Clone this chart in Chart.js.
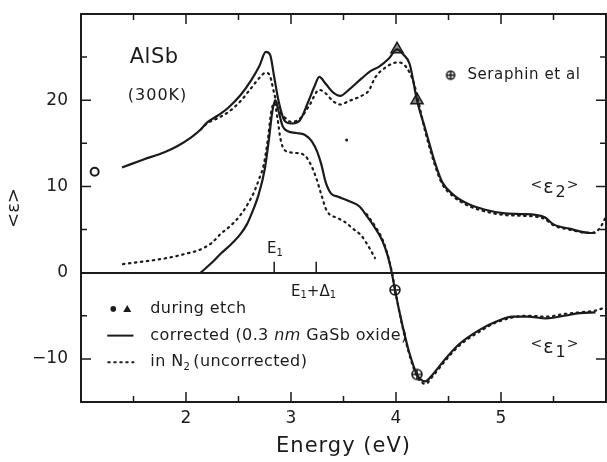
<!DOCTYPE html>
<html>
<head>
<meta charset="utf-8">
<script src="https://cdn.jsdelivr.net/npm/chart.js@4.4.1/dist/chart.umd.min.js"></script>
<style>
  html, body { margin: 0; padding: 0; background: #fff; }
  #wrap { width: 607px; height: 462px; }
</style>
</head>
<body>
<div id="wrap"><canvas id="chart" width="607" height="462"></canvas></div>
<script>
// <eps2>, corrected (0.3 nm GaSb oxide)
const eps2CorrE = [1.39, 1.59, 1.80, 1.92, 2.05, 2.14, 2.20, 2.30, 2.40, 2.52, 2.62, 2.70, 2.76, 2.80, 2.84, 2.88, 2.94, 3.00, 3.08, 3.17, 3.22, 3.27, 3.33, 3.40, 3.47, 3.55, 3.67, 3.76, 3.84, 3.93, 4.01, 4.07, 4.13, 4.20, 4.28, 4.37, 4.44, 4.55, 4.70, 4.85, 5.02, 5.20, 5.33, 5.42, 5.50, 5.65, 5.85, 5.90];
const eps2CorrV = [12.2, 13.1, 14.0, 14.7, 15.7, 16.6, 17.4, 18.2, 19.1, 20.6, 22.3, 24.0, 25.6, 25.3, 22.7, 20.0, 17.6, 17.3, 17.6, 20.0, 21.5, 22.7, 21.9, 20.9, 20.5, 21.2, 22.5, 23.4, 23.9, 24.8, 25.9, 25.3, 24.2, 20.0, 16.6, 12.8, 10.5, 9.0, 7.9, 7.3, 6.9, 6.8, 6.7, 6.4, 5.6, 5.1, 4.6, 4.6];

// <eps2>, in N2 (uncorrected)
const eps2RawE = [2.14, 2.20, 2.30, 2.40, 2.52, 2.62, 2.70, 2.76, 2.80, 2.84, 2.88, 2.94, 3.00, 3.08, 3.17, 3.27, 3.33, 3.40, 3.47, 3.55, 3.67, 3.74, 3.80, 3.90, 4.02, 4.10, 4.17, 4.22, 4.28, 4.37, 4.44, 4.55, 4.70, 4.85, 5.02, 5.20, 5.33, 5.42, 5.50, 5.65, 5.85, 5.93, 5.98, 6.00];
const eps2RawV = [16.6, 17.3, 17.9, 18.6, 19.9, 21.4, 22.6, 23.2, 22.8, 20.8, 19.0, 18.0, 17.5, 17.8, 19.3, 21.2, 20.8, 19.9, 19.5, 19.9, 20.5, 21.1, 22.6, 23.8, 24.4, 23.8, 22.0, 19.5, 16.3, 12.5, 10.3, 8.8, 7.7, 7.1, 6.7, 6.6, 6.5, 6.2, 5.5, 5.0, 4.6, 5.0, 6.0, 6.6];

// <eps1>, corrected
const eps1CorrE = [2.14, 2.25, 2.33, 2.43, 2.52, 2.58, 2.62, 2.69, 2.75, 2.79, 2.82, 2.85, 2.88, 2.92, 2.97, 3.05, 3.13, 3.20, 3.25, 3.29, 3.33, 3.38, 3.45, 3.55, 3.65, 3.72, 3.80, 3.87, 3.92, 3.96, 3.99, 4.05, 4.12, 4.20, 4.28, 4.35, 4.47, 4.60, 4.80, 4.95, 5.11, 5.25, 5.43, 5.60, 5.75, 5.90];
const eps1CorrV = [0.0, 1.2, 2.2, 3.3, 4.5, 5.6, 6.7, 9.0, 12.0, 15.5, 18.5, 20.0, 18.8, 17.0, 16.4, 16.2, 16.0, 15.2, 14.0, 12.5, 10.5, 9.2, 8.8, 8.3, 7.7, 6.6, 5.2, 3.7, 2.0, 0.0, -2.0, -5.5, -9.0, -11.8, -12.6, -11.8, -10.0, -8.3, -6.6, -5.7, -5.1, -5.1, -5.3, -5.0, -4.7, -4.6];

// <eps1>, in N2 (uncorrected); null marks the break between the two strands
const eps1RawE = [1.40, 1.60, 1.82, 2.00, 2.14, 2.25, 2.33, 2.43, 2.52, 2.60, 2.65, 2.70, 2.74, 2.78, 2.81, 2.84, 2.87, 2.90, 2.94, 3.03, 3.13, 3.19, 3.24, 3.29, 3.34, 3.45, 3.51, 3.60, 3.67, 3.74, 3.80, 3.81, 3.72, 3.80, 3.87, 3.92, 3.96, 3.99, 4.05, 4.12, 4.20, 4.28, 4.35, 4.47, 4.60, 4.80, 4.95, 5.11, 5.25, 5.43, 5.60, 5.75, 5.90, 6.00];
const eps1RawV = [1.0, 1.3, 1.7, 2.2, 2.7, 3.5, 4.5, 5.5, 6.7, 8.2, 9.4, 11.0, 12.5, 15.5, 18.5, 19.7, 18.0, 15.5, 14.2, 13.9, 13.6, 12.5, 11.0, 9.0, 7.2, 6.3, 5.9, 5.0, 4.3, 3.0, 1.7, null, 6.8, 5.4, 3.9, 2.1, 0.1, -1.9, -5.6, -9.2, -12.0, -12.9, -12.0, -10.2, -8.5, -6.8, -5.8, -5.2, -5.0, -5.1, -4.8, -4.6, -4.4, -4.0];

// Seraphin et al
const serE = [3.99, 4.20];
const serV = [-2.0, -11.8];
const lowE = [1.13];
const lowV = [11.7];

// during etch
const etchTriE = [4.01, 4.20];
const etchTriV = [25.9, 20.0];
const etchDotE = [3.53];
const etchDotV = [15.4];

const xTickLabels = [2, 3, 4, 5];
const yTickLabels = [20, 10, 0, -10];

const INK = '#1b1b1b';
const FONT = '"DejaVu Sans", sans-serif';

function pts(xs, ys) {
  return xs.map((x, i) => ({ x: x, y: ys[i] }));
}

// circle-with-cross marker for the Seraphin points
function makeOPlus(r) {
  const c = document.createElement('canvas');
  const s = Math.ceil(r * 2 + 4);
  c.width = s; c.height = s;
  const g = c.getContext('2d');
  g.strokeStyle = INK;
  g.fillStyle = '#fff';
  g.lineWidth = 1.6;
  g.beginPath();
  g.arc(s / 2, s / 2, r, 0, Math.PI * 2);
  g.fill();
  g.stroke();
  g.beginPath();
  g.moveTo(s / 2 - r, s / 2); g.lineTo(s / 2 + r, s / 2);
  g.moveTo(s / 2, s / 2 - r); g.lineTo(s / 2, s / 2 + r);
  g.stroke();
  return c;
}
const oplus = makeOPlus(5);
const oplusSmall = makeOPlus(4);

// draws a run of text pieces, each with its own size and vertical shift
function rich(ctx, x, y, parts, spacing) {
  ctx.save();
  ctx.textBaseline = 'middle';
  ctx.textAlign = 'left';
  ctx.fillStyle = INK;
  if (spacing) ctx.letterSpacing = spacing;
  let cx = x;
  parts.forEach(p => {
    ctx.font = (p.style || '') + ' ' + p.size + 'px ' + FONT;
    ctx.fillText(p.t, cx, y + (p.dy || 0));
    cx += ctx.measureText(p.t).width + (p.gap || 0);
  });
  if (spacing) ctx.letterSpacing = '0px';
  ctx.restore();
}

const decor = {
  id: 'decor',
  afterDatasetsDraw(chart) {
    const { ctx, chartArea: a, scales } = chart;
    const xs = scales.x, ys = scales.y;
    const X = v => xs.getPixelForValue(v);
    const Y = v => ys.getPixelForValue(v);

    ctx.save();
    ctx.strokeStyle = INK;
    ctx.lineWidth = 2;
    ctx.strokeRect(a.left, a.top, a.right - a.left, a.bottom - a.top);

    // inward ticks on all four sides
    ctx.lineWidth = 1.5;
    ctx.beginPath();
    for (let e = 1.5; e < 6; e += 0.5) {
      const len = Number.isInteger(e) ? 10 : 6;
      const px = X(e);
      ctx.moveTo(px, a.bottom); ctx.lineTo(px, a.bottom - len);
      ctx.moveTo(px, a.top); ctx.lineTo(px, a.top + len);
    }
    for (let v = -10; v <= 25; v += 5) {
      const len = v % 10 === 0 ? 10 : 6;
      const py = Y(v);
      ctx.moveTo(a.left, py); ctx.lineTo(a.left + len, py);
      ctx.moveTo(a.right, py); ctx.lineTo(a.right - len, py);
    }
    // E1 and E1+D1 markers on the zero line
    [2.84, 3.24].forEach(e => {
      ctx.moveTo(X(e), Y(0)); ctx.lineTo(X(e), Y(0) - 11);
    });
    ctx.stroke();
    ctx.restore();

    // axis titles
    ctx.save();
    ctx.fillStyle = INK;
    ctx.textAlign = 'center';
    ctx.textBaseline = 'middle';
    ctx.font = '21px ' + FONT;
    ctx.letterSpacing = '1px';
    ctx.fillText('Energy (eV)', (a.left + a.right) / 2, 447);
    ctx.letterSpacing = '0px';
    ctx.translate(14, (a.top + a.bottom) / 2);
    ctx.rotate(-Math.PI / 2);
    ctx.font = '18px ' + FONT;
    ctx.fillText('<ε>', 0, 0);
    ctx.restore();

    rich(ctx, X(1.74) - 29, Y(24.9), [{ t: 'AlSb', size: 21 }], '0.5px');
    rich(ctx, X(1.76) - 33, Y(20.5), [{ t: '(300K)', size: 16 }], '1px');

    ctx.drawImage(oplusSmall, X(4.52) - oplusSmall.width / 2, Y(22.9) - oplusSmall.height / 2);
    rich(ctx, X(4.68), Y(22.9), [{ t: 'Seraphin et al', size: 15 }], '0.6px');

    rich(ctx, X(5.51) - 24, Y(9.8), [
      { t: '<', size: 14, dy: -3, gap: 1 },
      { t: 'ε', size: 19, gap: 2 },
      { t: '2', size: 16, dy: 5, gap: 1 },
      { t: '>', size: 14, dy: -3 }
    ]);
    rich(ctx, X(5.51) - 24, Y(-8.7), [
      { t: '<', size: 14, dy: -3, gap: 1 },
      { t: 'ε', size: 19, gap: 2 },
      { t: '1', size: 16, dy: 5, gap: 1 },
      { t: '>', size: 14, dy: -3 }
    ]);

    rich(ctx, X(2.78) - 1, Y(2.7), [
      { t: 'E', size: 15 },
      { t: '1', size: 10, dy: 4 }
    ]);
    rich(ctx, X(3.0), Y(-2.2), [
      { t: 'E', size: 15 },
      { t: '1', size: 10, dy: 4 },
      { t: '+Δ', size: 15 },
      { t: '1', size: 10, dy: 4 }
    ]);

    // legend
    const lx0 = X(1.25), lx1 = X(1.50), tx = X(1.66);
    const r1 = Y(-4.2), r2 = Y(-7.3), r3 = Y(-10.4);
    ctx.save();
    ctx.fillStyle = INK;
    ctx.beginPath();
    ctx.arc(lx0 + 6, r1, 2.8, 0, Math.PI * 2);
    ctx.fill();
    ctx.beginPath();
    ctx.moveTo(lx0 + 20, r1 - 4); ctx.lineTo(lx0 + 24, r1 + 3); ctx.lineTo(lx0 + 16, r1 + 3);
    ctx.closePath();
    ctx.fill();
    ctx.strokeStyle = INK;
    ctx.lineWidth = 2;
    ctx.beginPath();
    ctx.moveTo(lx0, r2); ctx.lineTo(lx1, r2);
    ctx.stroke();
    ctx.setLineDash([1.5, 4.5]);
    ctx.lineCap = 'round';
    ctx.beginPath();
    ctx.moveTo(lx0 + 1, r3); ctx.lineTo(lx1, r3);
    ctx.stroke();
    ctx.restore();

    rich(ctx, tx, r1, [{ t: 'during etch', size: 16 }], '0.4px');
    rich(ctx, tx, r2, [
      { t: 'corrected (0.3 ', size: 16 },
      { t: 'nm', size: 16, style: 'italic' },
      { t: ' GaSb oxide)', size: 16 }
    ], '0.4px');
    rich(ctx, tx, r3, [
      { t: 'in N', size: 16 },
      { t: '2', size: 10, dy: 5, gap: 3 },
      { t: '(uncorrected)', size: 16 }
    ], '0.4px');
  }
};

const solidLine = {
  showLine: true, borderColor: INK, borderWidth: 2.2, pointRadius: 0,
  cubicInterpolationMode: 'monotone', fill: false
};
const dotLine = {
  showLine: true, borderColor: INK, borderWidth: 2.2, pointRadius: 0,
  borderDash: [1.5, 4.5], borderCapStyle: 'round',
  cubicInterpolationMode: 'monotone', fill: false, spanGaps: false
};

// keep the plot frame where the reference has it
function noPad(s) {
  s.paddingTop = 0; s.paddingBottom = 0; s.paddingLeft = 0; s.paddingRight = 0;
}

new Chart(document.getElementById('chart'), {
  type: 'scatter',
  data: {
    datasets: [
      Object.assign({ label: 'eps2 corrected', data: pts(eps2CorrE, eps2CorrV) }, solidLine),
      Object.assign({ label: 'eps2 in N2', data: pts(eps2RawE, eps2RawV) }, dotLine),
      Object.assign({ label: 'eps1 corrected', data: pts(eps1CorrE, eps1CorrV) }, solidLine),
      Object.assign({ label: 'eps1 in N2', data: pts(eps1RawE, eps1RawV) }, dotLine),
      {
        label: 'during etch (triangles)', data: pts(etchTriE, etchTriV),
        pointStyle: 'triangle', pointRadius: 7, backgroundColor: '#8a8a8a',
        borderColor: INK, borderWidth: 1.5
      },
      {
        label: 'during etch (dots)', data: pts(etchDotE, etchDotV),
        pointRadius: 1.5, backgroundColor: INK, borderWidth: 0
      },
      {
        label: 'Seraphin et al', data: pts(serE, serV),
        pointStyle: oplus, pointRadius: 6
      },
      {
        label: 'Seraphin low', data: pts(lowE, lowV),
        pointRadius: 4, backgroundColor: '#fff', borderColor: INK, borderWidth: 2
      }
    ]
  },
  options: {
    responsive: false,
    animation: false,
    devicePixelRatio: 1,
    layout: { autoPadding: false, padding: { top: 14, right: 1, left: 0, bottom: 0 } },
    plugins: { legend: { display: false }, tooltip: { enabled: false } },
    scales: {
      x: {
        type: 'linear', min: 1, max: 6,
        afterFit: s => { s.height = 60; noPad(s); },
        grid: { display: false, drawTicks: false },
        border: { display: false },
        ticks: {
          stepSize: 0.5, autoSkip: false, maxRotation: 0, padding: 6,
          color: INK, font: { family: FONT, size: 17 },
          callback: v => xTickLabels.includes(v) ? String(v) : ''
        }
      },
      y: {
        type: 'linear', min: -15, max: 30,
        afterFit: s => { s.width = 81; noPad(s); },
        grid: {
          drawTicks: false,
          color: c => (c.tick && c.tick.value === 0) ? INK : 'rgba(0,0,0,0)',
          lineWidth: c => (c.tick && c.tick.value === 0) ? 2 : 0
        },
        border: { display: false },
        ticks: {
          stepSize: 5, autoSkip: false, padding: 13,
          color: INK, font: { family: FONT, size: 17 },
          callback: v => yTickLabels.includes(v) ? (v < 0 ? '−' + Math.abs(v) : String(v)) : ''
        }
      }
    }
  },
  plugins: [decor]
});
</script>
</body>
</html>
